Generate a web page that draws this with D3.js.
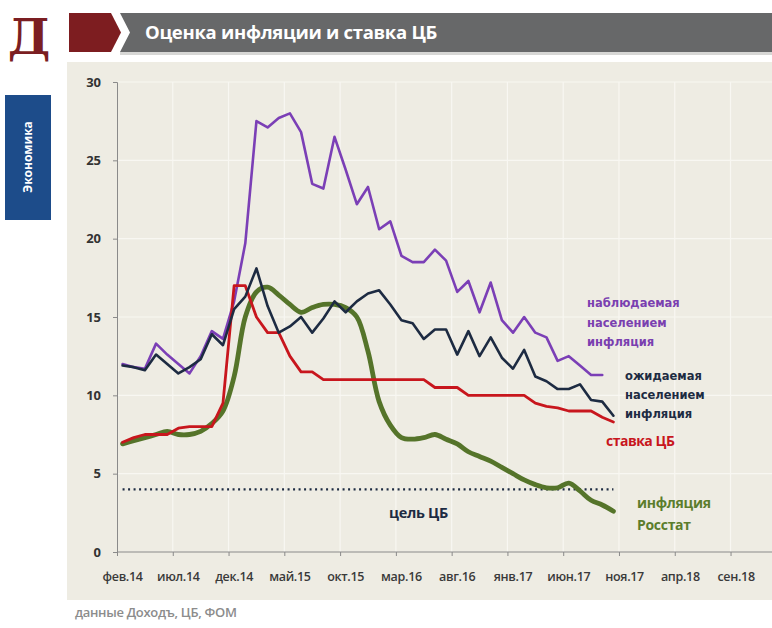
<!DOCTYPE html>
<html lang="ru">
<head>
    <meta charset="UTF-8">
    <title>Оценка инфляции и ставка ЦБ</title>
    <script src="https://d3js.org/d3.v7.min.js"></script>
    <style>
        body {margin: 0; background: #fff;}
        svg {display: block;}
    </style>
</head>
<body>
<script>
    const width = 772;
    const height = 628;

    // tick labels, one every 5 months starting feb.14
    const tickLabels = ["фев.14", "июл.14", "дек.14", "май.15", "окт.15", "мар.16",
        "авг.16", "янв.17", "июн.17", "ноя.17", "апр.18", "сен.18"];
    const nCategories = 58;
    const yTicks = [0, 5, 10, 15, 20, 25, 30];

    // monthly series starting feb.14
    const observed = [12.0, 11.8, 11.7, 13.3, 12.6, 12.0, 11.4, 12.5, 14.1, 13.6,
        16.0, 19.7, 27.5, 27.1, 27.7, 28.0, 26.8, 23.5, 23.2, 26.5,
        24.4, 22.2, 23.3, 20.6, 21.1, 18.9, 18.5, 18.5, 19.3, 18.6,
        16.6, 17.3, 15.3, 17.2, 14.8, 14.0, 15.0, 14.0, 13.7, 12.2,
        12.5, 11.9, 11.3, 11.3];
    const expected = [11.9, 11.8, 11.6, 12.6, 12.0, 11.4, 11.8, 12.3, 13.9, 13.2,
        15.5, 16.3, 18.1, 15.7, 14.0, 14.4, 15.0, 14.0, 14.9, 16.0,
        15.3, 16.0, 16.5, 16.7, 15.8, 14.8, 14.6, 13.6, 14.2, 14.2,
        12.6, 14.1, 12.5, 13.7, 12.4, 11.7, 12.9, 11.2, 10.9, 10.4,
        10.4, 10.7, 9.7, 9.6, 8.7];
    const keyRate = [7.0, 7.3, 7.5, 7.5, 7.5, 7.9, 8.0, 8.0, 8.0, 9.5,
        17.0, 17.0, 15.0, 14.0, 14.0, 12.5, 11.5, 11.5, 11.0, 11.0,
        11.0, 11.0, 11.0, 11.0, 11.0, 11.0, 11.0, 11.0, 10.5, 10.5,
        10.5, 10.0, 10.0, 10.0, 10.0, 10.0, 10.0, 9.5, 9.3, 9.2,
        9.0, 9.0, 9.0, 8.6, 8.3];
    const rosstat = [6.9, 7.1, 7.3, 7.5, 7.7, 7.5, 7.5, 7.7, 8.2, 9.0,
        11.2, 15.0, 16.6, 16.9, 16.4, 15.8, 15.3, 15.6, 15.8, 15.8,
        15.6, 15.0, 12.8, 9.6, 8.1, 7.3, 7.2, 7.3, 7.5, 7.2,
        6.9, 6.4, 6.1, 5.8, 5.4, 5.0, 4.6, 4.3, 4.1, 4.1,
        4.4, 3.9, 3.3, 3.0, 2.6];
    const target = 4;
    const targetSpan = [0, 44];

    const svg = d3.select("body").append("svg")
            .attr("width", width).attr("height", height)
            .style("font-family", "'Open Sans', sans-serif");

    // header
    svg.append("text")
            .attr("x", 29).attr("y", 54)
            .attr("text-anchor", "middle")
            .style("font-family", "'DejaVu Serif', serif")
            .style("font-weight", "bold")
            .style("font-size", "48px")
            .style("fill", "#7b1e22")
            .text("Д");

    svg.append("path")
            .attr("d", "M69,13 L111,13 L121,32.5 L111,52 L69,52 Z")
            .style("fill", "#7d1d20");

    svg.append("path")
            .attr("d", "M120,13 L772,13 L772,52 L120,52 L130,32.5 Z")
            .style("fill", "#676869");
    svg.append("rect")
            .attr("x", 120).attr("y", 52).attr("width", 652).attr("height", 3)
            .style("fill", "#d7d7d5");

    svg.append("text")
            .attr("x", 145).attr("y", 39)
            .style("font-weight", "bold")
            .style("font-size", "18.5px")
            .style("letter-spacing", "-0.3px")
            .style("fill", "#fff")
            .text("Оценка инфляции и ставка ЦБ");

    // side tab
    svg.append("rect")
            .attr("x", 5).attr("y", 95).attr("width", 46).attr("height", 125)
            .style("fill", "#1d4c8a");
    svg.append("text")
            .attr("transform", "translate(32,157) rotate(-90)")
            .attr("text-anchor", "middle")
            .style("font-weight", "bold")
            .style("font-size", "12px")
            .style("fill", "#fff")
            .text("Экономика");

    // chart panel
    svg.append("rect")
            .attr("x", 67).attr("y", 62).attr("width", width - 67).attr("height", 538)
            .style("fill", "#eeece3");

    const x = d3.scaleLinear().domain([0, nCategories]).range([117, 764]);
    const y = d3.scaleLinear().domain([0, 30]).range([552, 82]);
    const px = i => x(i + 0.5);

    // grid
    const grid = svg.append("g").attr("class", "grid");
    grid.selectAll("line.h")
            .data(yTicks.slice(1)).enter()
            .append("line").attr("class", "h")
            .attr("x1", 117).attr("x2", width)
            .attr("y1", d => y(d)).attr("y2", d => y(d));
    grid.selectAll("line.v")
            .data(tickLabels.map((d, i) => (i + 1) * 5)).enter()
            .append("line").attr("class", "v")
            .attr("x1", d => x(d)).attr("x2", d => x(d))
            .attr("y1", y(30)).attr("y2", y(0));

    // axes
    const yAxis = d3.axisLeft(y).tickValues(yTicks).tickSize(4).tickPadding(12);
    svg.append("g").attr("class", "axis y")
            .attr("transform", `translate(${x(0)},0)`)
            .call(yAxis);

    const xAxis = d3.axisBottom(x)
            .tickValues(d3.range(0, 60, 5))
            .tickSize(4)
            .tickFormat(() => "");
    const gx = svg.append("g").attr("class", "axis x")
            .attr("transform", `translate(0,${y(0)})`)
            .call(xAxis);
    gx.select(".domain").attr("d", `M${x(0)},0H${width}`);

    svg.append("g").attr("class", "xlabels")
            .selectAll("text")
            .data(tickLabels).enter()
            .append("text")
            .attr("x", (d, i) => px(i * 5))
            .attr("y", 581)
            .attr("text-anchor", "middle")
            .text(d => d);

    // target line
    svg.append("line").attr("class", "target")
            .attr("x1", px(targetSpan[0])).attr("x2", px(targetSpan[1]))
            .attr("y1", y(target)).attr("y2", y(target));

    // series
    const line = d3.line().x((d, i) => px(i)).y(d => y(d));
    const smooth = d3.line().x((d, i) => px(i)).y(d => y(d)).curve(d3.curveCatmullRom);

    svg.append("path").attr("class", "series observed").datum(observed).attr("d", line);
    svg.append("path").attr("class", "series rosstat").datum(rosstat).attr("d", smooth);
    svg.append("path").attr("class", "series rate").datum(keyRate).attr("d", line);
    svg.append("path").attr("class", "series expected").datum(expected).attr("d", line);

    // series labels
    function label(lines, x0, y0, step, cls) {
        const t = svg.append("text").attr("class", "label " + cls);
        lines.forEach((s, i) => t.append("tspan").attr("x", x0).attr("y", y0 + i * step).text(s));
    }
    label(["наблюдаемая", "населением", "инфляция"], 587, 307, 19.5, "l-observed");
    label(["ожидаемая", "населением", "инфляция"], 625, 380, 19, "l-expected");
    label(["ставка ЦБ"], 606, 446, 0, "l-rate");
    label(["инфляция", "Росстат"], 637, 508, 22, "l-rosstat");
    label(["цель ЦБ"], 389, 518, 0, "l-target");

    // source
    svg.append("text")
            .attr("x", 75).attr("y", 617)
            .style("font-weight", "600")
            .style("font-size", "13px")
            .style("letter-spacing", "-0.3px")
            .style("fill", "#8c8c8c")
            .text("данные Доходъ, ЦБ, ФОМ");
</script>
<style>
    .grid line {
        stroke: #f8f7f2;
        stroke-width: 1.2;
    }
    .axis .domain, .axis line {
        stroke: #8a8a8a;
        stroke-width: 1;
    }
    .axis.y text {
        font-family: 'Open Sans', sans-serif;
        font-size: 13px;
        font-weight: bold;
        fill: #333;
    }
    .xlabels text {
        font-size: 12.5px;
        font-weight: 600;
        letter-spacing: -0.3px;
        fill: #3a3a3a;
    }
    .series {
        fill: none;
        stroke-linejoin: round;
        stroke-linecap: round;
    }
    .observed {stroke: #7b3fb6; stroke-width: 2.6;}
    .expected {stroke: #1d2b42; stroke-width: 2.6;}
    .rate {stroke: #c8161d; stroke-width: 2.8;}
    .rosstat {stroke: #55742a; stroke-width: 4.8;}
    .target {
        stroke: #1d2b42;
        stroke-width: 2.2;
        stroke-dasharray: 2 3.5;
    }
    .label {
        font-family: 'DejaVu Sans', sans-serif;
        font-size: 11.5px;
        font-weight: bold;
    }
    .l-observed {fill: #7a3fb0;}
    .l-expected {fill: #1d2b42;}
    .l-rate {fill: #c8161d; font-family: 'Open Sans', sans-serif; font-size: 14px; letter-spacing: -0.5px;}
    .l-rosstat {fill: #5b7d2c; font-family: 'Open Sans', sans-serif; font-size: 14px; letter-spacing: -0.3px;}
    .l-target {fill: #1d2b42; font-family: 'Open Sans', sans-serif; font-size: 14.5px; letter-spacing: -0.3px;}
</style>
</body>
</html>
